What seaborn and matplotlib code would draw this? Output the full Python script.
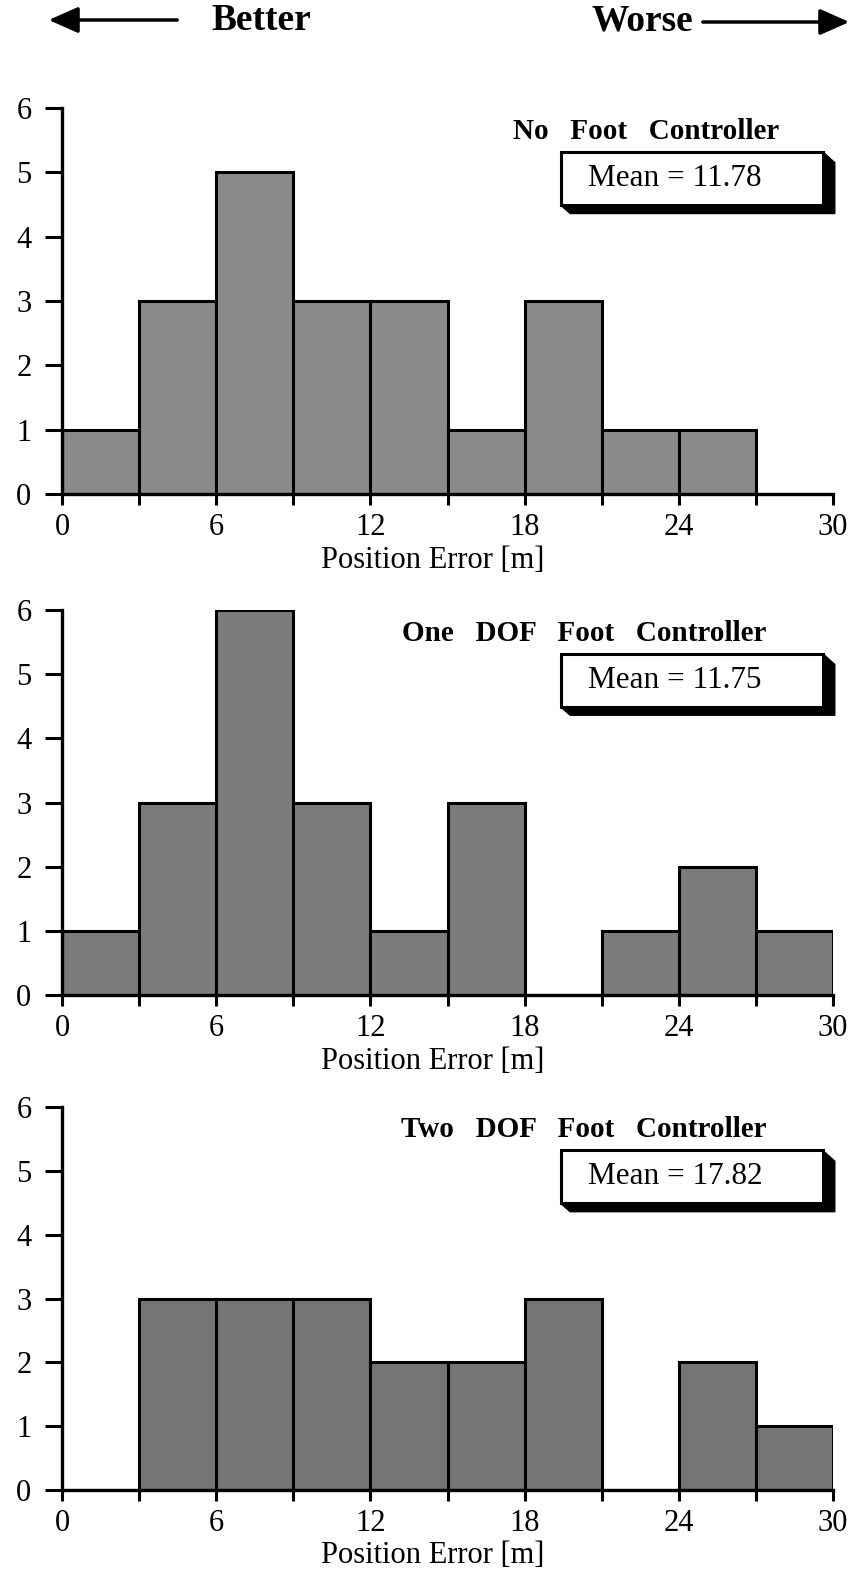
import numpy as np
import pandas as pd
import matplotlib
matplotlib.use("Agg")
import matplotlib.pyplot as plt
from matplotlib.patches import Polygon, Rectangle, FancyArrowPatch
import seaborn as sns

# Histogram bins (position error, metres) and counts per condition
bin_edges = [0, 3, 6, 9, 12, 15, 18, 21, 24, 27, 30]
titles = ["No Foot Controller", "One DOF Foot Controller", "Two DOF Foot Controller"]
counts_none = [1, 3, 5, 3, 3, 1, 3, 1, 1, 0]
counts_one_dof = [1, 3, 6, 3, 1, 3, 0, 1, 2, 1]
counts_two_dof = [0, 3, 3, 3, 2, 2, 3, 0, 2, 1]
means = [11.78, 11.75, 17.82]
fills = ["#8a8a8a", "#7c7c7c", "#757575"]

x_ticks = [0, 6, 12, 18, 24, 30]
y_ticks = [0, 1, 2, 3, 4, 5, 6]

sns.set_theme(style="ticks")
plt.rcParams["font.family"] = ["Liberation Serif", "DejaVu Serif"]
plt.rcParams.update({"text.color": "black", "axes.labelcolor": "black",
                     "xtick.color": "black", "ytick.color": "black"})

fig = plt.figure(figsize=(8.55, 15.73), dpi=100)
left, width = 62 / 855, 771 / 855
panel_rows = [(494, 108), (995, 610), (1490, 1107)]
title_right = [27.9, 27.4, 27.4]

all_counts = [counts_none, counts_one_dof, counts_two_dof]
centers = [(a + b) / 2 for a, b in zip(bin_edges[:-1], bin_edges[1:])]

for i, (counts, title, mean, fill) in enumerate(zip(all_counts, titles, means, fills)):
    y0, y1 = panel_rows[i]
    ax = fig.add_axes([left, 1 - y0 / 1573, width, (y0 - y1) / 1573])
    df = pd.DataFrame({"error": centers, "count": counts})
    sns.histplot(data=df, x="error", weights="count", bins=bin_edges, ax=ax,
                 color=fill, alpha=1, edgecolor="black", linewidth=2.2)
    ax.set_xlim(0, 30)
    ax.set_ylim(0, 6)
    ax.set_xticks(x_ticks)
    ax.set_xticks([3, 9, 15, 21, 27], minor=True)
    ax.set_yticks(y_ticks)
    ax.tick_params(axis="x", which="both", direction="out", length=8, width=2.2,
                   labelsize=22, pad=6, color="black", labelcolor="black")
    ax.tick_params(axis="y", which="major", direction="out", length=12, width=2.2,
                   labelsize=22, pad=10, color="black", labelcolor="black")
    for s in ["top", "right"]:
        ax.spines[s].set_visible(False)
    for s in ["left", "bottom"]:
        ax.spines[s].set_linewidth(2.4)
        ax.spines[s].set_color("black")
    ax.set_xlabel("Position Error [m]", fontsize=22, color="black")
    ax.xaxis.set_label_coords(0.481, -0.172)
    ax.xaxis.label.set_va("center")
    ax.set_ylabel("")

    # Panel title
    ax.text(title_right[i], 5.64, title.replace(" ", "   "), ha="right", va="center",
            fontsize=21, fontweight="bold", color="black")

    # Mean box with drop shadow
    bx0, bx1, by0, by1 = 19.4, 29.6, 4.49, 5.32
    dx, dy = 0.47, 0.13
    shadow = Polygon([(bx1, by1), (bx1 + dx, by1 - dy * 1.3), (bx1 + dx, by0 - dy),
                      (bx0 + dx * 0.8, by0 - dy), (bx0, by0)],
                     closed=True, facecolor="black", edgecolor="black",
                     clip_on=False, zorder=5)
    ax.add_patch(shadow)
    box = Rectangle((bx0, by0), bx1 - bx0, by1 - by0, facecolor="white",
                    edgecolor="black", linewidth=2.2, clip_on=False, zorder=6)
    ax.add_patch(box)
    ax.text(23.85, (by0 + by1) / 2, f"Mean = {mean:.2f}", ha="center",
            va="center", fontsize=22.5, zorder=7, color="black")

# Direction header
fig.text(211 / 855, 1 - 21 / 1573, "Better", ha="left", va="center",
         fontsize=27, fontweight="bold", color="black")
fig.text(693 / 855, 1 - 21 / 1573, "Worse", ha="right", va="center",
         fontsize=27, fontweight="bold", color="black")
fig.add_artist(FancyArrowPatch(
    (180 / 855, 1 - 20 / 1573), (46 / 855, 1 - 20 / 1573), transform=fig.transFigure,
    arrowstyle="-|>,head_length=18,head_width=8", mutation_scale=1,
    linewidth=2.5, color="black"))
fig.add_artist(FancyArrowPatch(
    (700 / 855, 1 - 22 / 1573), (852 / 855, 1 - 22 / 1573), transform=fig.transFigure,
    arrowstyle="-|>,head_length=18,head_width=8", mutation_scale=1,
    linewidth=2.5, color="black"))

fig.savefig("out.png", dpi=100, facecolor="white")
